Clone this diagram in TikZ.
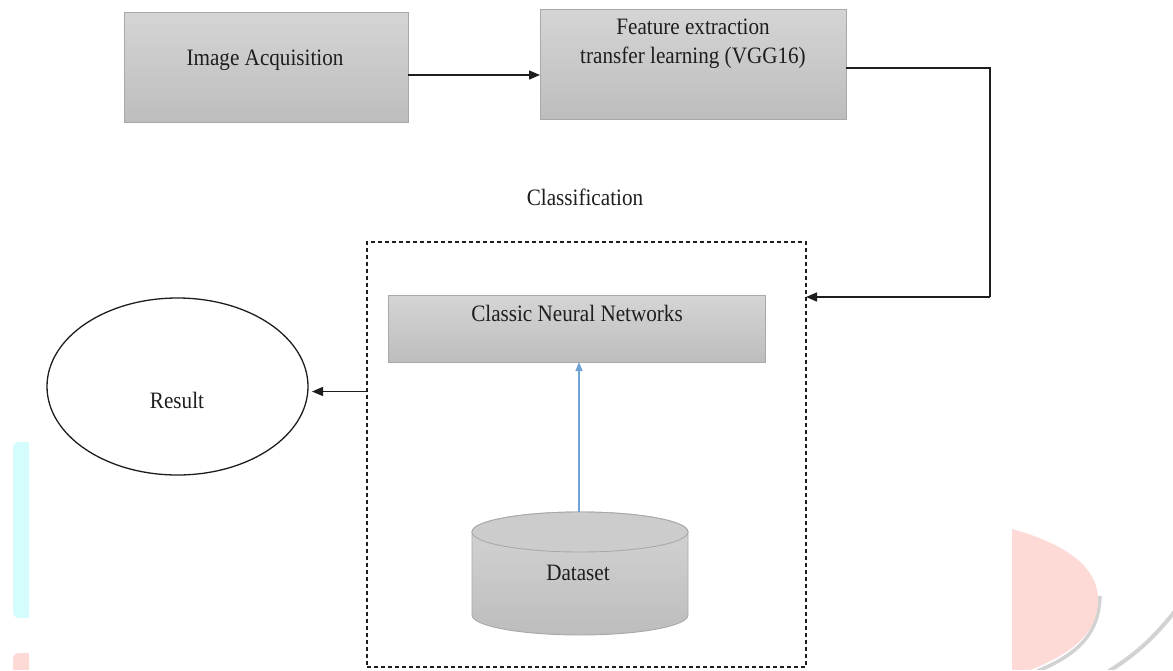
\documentclass[tikz,border=0pt]{standalone}
\usepackage{fontspec}
\usepackage{graphicx}
\setmainfont{Liberation Serif}
\newfontfamily\labelfont{Liberation Serif}
\usetikzlibrary{arrows.meta,shapes.geometric}

\definecolor{ink}{HTML}{1E1E1E}
\definecolor{edge}{HTML}{A9A9A9}
\definecolor{boxtop}{HTML}{D5D5D5}
\definecolor{boxbot}{HTML}{BDBDBD}
\definecolor{flow}{HTML}{6FA3D8}
\definecolor{wmcyan}{HTML}{D4FCFC}
\definecolor{wmpink}{HTML}{FDDAD6}
\definecolor{wmgrey}{HTML}{D2D2D2}

% slightly condensed serif labels
\newcommand\lbl[1]{\scalebox{0.9}[1]{#1}}

\begin{document}
\begin{tikzpicture}[x=1pt,y=-1pt,
  every node/.style={inner sep=0pt, outer sep=0pt},
  procbox/.style={draw=edge, line width=0.9pt, top color=boxtop, bottom color=boxbot},
  txt/.style={font=\labelfont\fontsize{23.5}{28.5}\selectfont, text=ink, align=center},
  link/.style={draw=ink, line width=1.4pt, -{Triangle[length=11pt,width=9pt]}},
  plain/.style={draw=ink, line width=1.4pt},
  feed/.style={draw=flow, line width=1.3pt, -{Triangle[length=9pt,width=7pt]}},
  group/.style={draw=ink, line width=1.3pt, dash pattern=on 4pt off 3pt},
]
% page
\useasboundingbox (0,0) rectangle (1173,670);
\fill[white] (0,0) rectangle (1173,670);

% faint background marks
\fill[wmcyan, rounded corners=6pt] (13,442) rectangle (29,618);
\fill[wmcyan] (21,442) rectangle (29,618);
\fill[wmpink, rounded corners=6pt] (13,653) rectangle (29,680);
\fill[wmpink] (21,653) rectangle (29,670);
\fill[wmpink] (13,670) rectangle (29,680);
\draw[wmgrey, line width=3.5pt] (1100,596) .. controls (1099,638) and (1072,658) .. (1030,674);
\fill[wmpink] (1012,529) .. controls (1070,545) and (1100,570) .. (1098,603)
  .. controls (1096,635) and (1070,655) .. (1025,672) -- (1012,672) -- cycle;
\draw[wmgrey, line width=4pt] (1176,610) .. controls (1152,640) and (1135,655) .. (1106,673);
\fill[white] (0,670) rectangle (1173,690);

% process boxes
\node[procbox, minimum width=284pt, minimum height=110pt] (ia) at (266,67) {};
\node[procbox, minimum width=306pt, minimum height=110pt] (fe) at (693,64) {};
\node[txt] (ia-t) at (265,60) {\lbl{Image Acquisition}};
\node[txt] (fe-t) at (693,44) {\lbl{Feature extraction}\\\lbl{transfer learning (VGG16)}};

% classification group
\node[txt] (cls-t) at (585,197) {\lbl{Classification}};
\node[group, minimum width=439pt, minimum height=425pt] (cls) at (586.5,454.5) {};
\node[procbox, minimum width=377pt, minimum height=67pt] (cnn) at (576.5,328.5) {};
\node[txt] (cnn-t) at (577,313) {\lbl{Classic Neural Networks}};

% dataset cylinder
\shade[top color=boxtop, bottom color=boxbot, draw=edge, line width=0.9pt]
  (472,532) -- (472,615) arc (180:360:108pt and 20pt) -- (688,532) arc (0:180:108pt and 20pt) -- cycle;
\filldraw[fill=boxtop!96!black, draw=edge, line width=0.9pt] (580,532) ellipse (108pt and 20pt);
\coordinate (ds-top) at (579,512);
\node[txt] (ds-t) at (578,573) {\lbl{Dataset}};

% result
\node[ellipse, draw=ink, line width=1.3pt, minimum width=261pt, minimum height=177pt] (res) at (177.5,386.5) {};
\node[txt] (res-t) at (177,400) {\lbl{Result}};

% connectors
\draw[link] ([yshift=-8pt]ia.east) -- ([yshift=-8pt]ia.east -| fe.west);
\coordinate (turn1) at (990,68);
\coordinate (turn2) at (990,297);
\draw[plain] (fe.east |- turn1) -- (turn1) -- (turn2);
\draw[link] (turn2) -- (cls.east |- turn2);
\coordinate (res-in) at ([xshift=4pt,yshift=-5pt]res.east);
\draw[link] (cls.west |- res-in) -- (res-in);
\draw[feed] (ds-top) -- (ds-top |- cnn.south);
\end{tikzpicture}
\end{document}
